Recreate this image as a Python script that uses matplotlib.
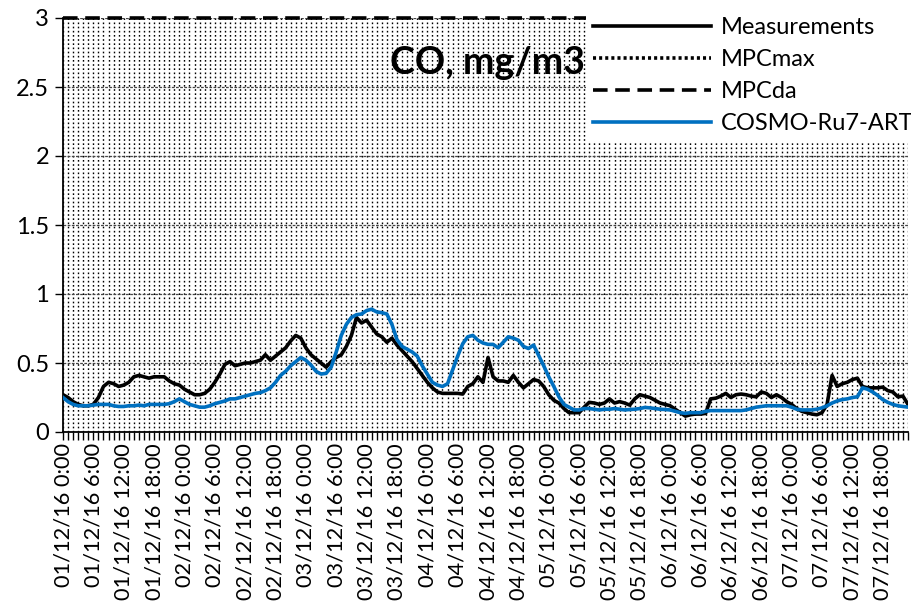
import numpy as np
import matplotlib
matplotlib.use("Agg")
from matplotlib import pyplot as plt

plt.rcParams['font.family'] = ['Lato', 'DejaVu Sans']
plt.rcParams['lines.scale_dashes'] = False

# hourly values, 01/12/16 0:00 .. 07/12/16 23:00
measurements = [
  0.27, 0.25, 0.22, 0.20, 0.19, 0.19, 0.20, 0.25, 0.33, 0.36, 0.35, 0.33,
  0.34, 0.36, 0.40, 0.41, 0.40, 0.39, 0.40, 0.40, 0.40, 0.37, 0.35, 0.34,
  0.31, 0.29, 0.27, 0.27, 0.28, 0.31, 0.36, 0.42, 0.49, 0.51, 0.48, 0.49,
  0.50, 0.50, 0.51, 0.52, 0.56, 0.52, 0.55, 0.58, 0.61, 0.66, 0.70, 0.68,
  0.61, 0.56, 0.53, 0.50, 0.47, 0.51, 0.54, 0.56, 0.62, 0.70, 0.83, 0.79,
  0.81, 0.76, 0.71, 0.69, 0.65, 0.68, 0.63, 0.59, 0.55, 0.51, 0.46, 0.41,
  0.36, 0.32, 0.29, 0.28, 0.28, 0.28, 0.28, 0.275, 0.33, 0.35, 0.40, 0.36,
  0.54, 0.40, 0.37, 0.37, 0.36, 0.41, 0.36, 0.32, 0.35, 0.38, 0.37, 0.33,
  0.27, 0.23, 0.21, 0.17, 0.14, 0.14, 0.14, 0.18, 0.215, 0.21, 0.20, 0.21,
  0.24, 0.21, 0.22, 0.21, 0.195, 0.24, 0.27, 0.26, 0.25, 0.23, 0.21, 0.20,
  0.19, 0.165, 0.14, 0.115, 0.125, 0.13, 0.13, 0.135, 0.24, 0.245, 0.26, 0.28,
  0.25, 0.27, 0.275, 0.27, 0.26, 0.255, 0.29, 0.28, 0.25, 0.27, 0.25, 0.22,
  0.20, 0.17, 0.15, 0.14, 0.13, 0.125, 0.14, 0.20, 0.41, 0.33, 0.35, 0.36,
  0.38, 0.39, 0.33, 0.32, 0.32, 0.32, 0.325, 0.30, 0.29, 0.255, 0.26, 0.20]

cosmo = [
  0.25, 0.22, 0.20, 0.19, 0.19, 0.19, 0.195, 0.20, 0.20, 0.20, 0.19, 0.185,
  0.185, 0.19, 0.19, 0.195, 0.19, 0.20, 0.20, 0.20, 0.20, 0.205, 0.22, 0.24,
  0.22, 0.20, 0.19, 0.18, 0.18, 0.19, 0.205, 0.215, 0.225, 0.24, 0.24, 0.25,
  0.26, 0.27, 0.28, 0.285, 0.30, 0.32, 0.36, 0.41, 0.44, 0.48, 0.51, 0.54,
  0.52, 0.485, 0.44, 0.42, 0.425, 0.47, 0.58, 0.70, 0.78, 0.83, 0.85, 0.855,
  0.88, 0.89, 0.87, 0.865, 0.855, 0.78, 0.67, 0.62, 0.60, 0.58, 0.55, 0.48,
  0.42, 0.36, 0.34, 0.33, 0.35, 0.45, 0.55, 0.64, 0.69, 0.70, 0.665, 0.645,
  0.635, 0.635, 0.61, 0.65, 0.69, 0.68, 0.665, 0.62, 0.605, 0.63, 0.555, 0.48,
  0.40, 0.33, 0.255, 0.20, 0.18, 0.16, 0.16, 0.17, 0.17, 0.165, 0.16, 0.165,
  0.165, 0.17, 0.165, 0.16, 0.163, 0.165, 0.17, 0.178, 0.175, 0.17, 0.165, 0.163,
  0.16, 0.15, 0.14, 0.135, 0.14, 0.14, 0.14, 0.15, 0.155, 0.155, 0.155, 0.155,
  0.155, 0.155, 0.155, 0.16, 0.17, 0.18, 0.185, 0.19, 0.19, 0.19, 0.19, 0.19,
  0.18, 0.165, 0.16, 0.16, 0.16, 0.165, 0.175, 0.19, 0.21, 0.225, 0.235, 0.24,
  0.25, 0.255, 0.32, 0.31, 0.29, 0.265, 0.235, 0.215, 0.20, 0.19, 0.185, 0.18]

mpc_max = 5.0
mpc_da = 3.0

days = ["01", "02", "03", "04", "05", "06", "07"]
tick_labels = [d + "/12/16 " + str(h) + ":00" for d in days for h in (0, 6, 12, 18)]

hours = np.arange(len(measurements))

fig = plt.figure(figsize=(9.12, 6.13), dpi=100)
ax = fig.add_axes([63/912, 1 - 432/613, 845/912, 414/613])

ax.plot(hours, measurements, color='black', lw=2.6, label='Measurements', zorder=4)
ax.plot(hours, [mpc_max]*len(hours), color='black', lw=2.6, ls=(0, (2.2, 2.2)), label='MPCmax', zorder=3)
ax.plot(hours, [mpc_da]*len(hours), color='black', lw=2.6, ls=(0, (10.5, 5.5)), label='MPCda', zorder=3, clip_on=False)
ax.plot(hours, cosmo, color='#0070C0', lw=2.6, label='COSMO-Ru7-ART', zorder=4)

ax.set_xlim(0, len(hours) - 1)
ax.set_ylim(0, 3)
ax.set_yticks([0, 0.5, 1, 1.5, 2, 2.5, 3])
ax.set_yticklabels(['0', '0.5', '1', '1.5', '2', '2.5', '3'])
ax.set_xticks(np.arange(0, len(hours), 6))
ax.set_xticklabels(tick_labels, rotation=90)
ax.set_xticks(hours, minor=True)

ax.tick_params(axis='both', which='both', direction='out', length=6, width=1, color='black')
ax.tick_params(axis='y', pad=4, labelsize=17)
ax.tick_params(axis='x', pad=2, labelsize=15.7)

ax.grid(axis='x', which='both', color='black', lw=1.0, ls=(0, (1.2, 1.8)))
ax.grid(axis='y', which='major', color='#444444', lw=0.9, ls=(0, (2, 1)))
ax.set_axisbelow(True)

for s in ['top', 'right']:
  ax.spines[s].set_visible(False)
ax.spines['left'].set_linewidth(1.3)
ax.spines['bottom'].set_linewidth(1.3)

ax.text(0.618, 0.892, 'CO, mg/m3', transform=ax.transAxes, ha='right', va='center',
        fontsize=27, fontweight='bold', zorder=6)

leg = fig.legend(loc='upper right', bbox_to_anchor=(1.022, 1.003), fontsize=17,
                 handlelength=5.0, handletextpad=0.4, labelspacing=0.47,
                 frameon=True, fancybox=False, framealpha=1, borderpad=0.3)
leg.get_frame().set_edgecolor('white')
leg.get_frame().set_linewidth(0)

fig.savefig('out.png', dpi=100)
